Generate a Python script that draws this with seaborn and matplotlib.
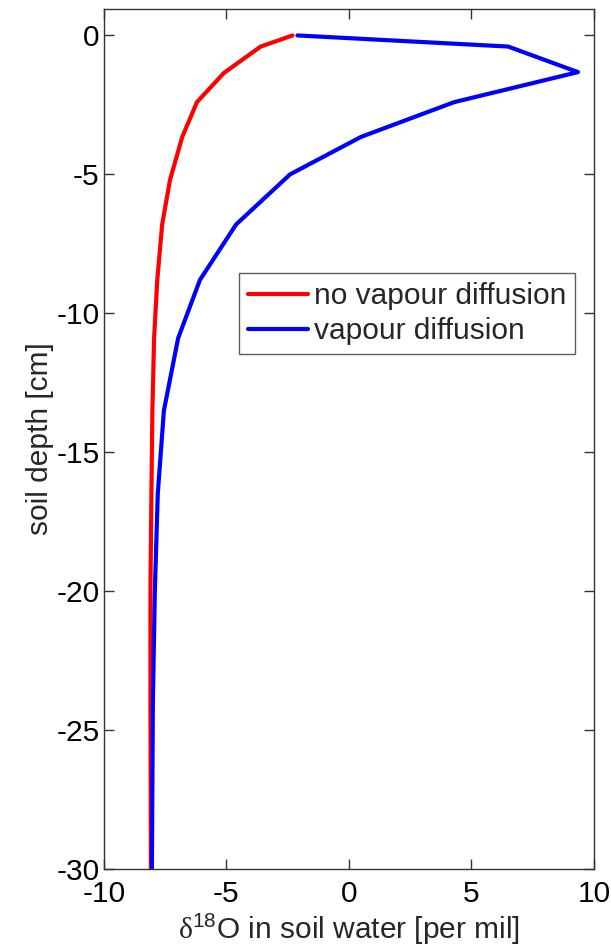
import matplotlib
matplotlib.use("Agg")
import matplotlib.pyplot as plt
import seaborn as sns
import pandas as pd

# data
depth_red = [0, -0.4, -1.35, -2.4, -3.65, -5.2, -6.8, -8.8, -10.9, -13.5, -16.5, -20, -24, -30]
d18o_red = [-2.3, -3.6, -5.1, -6.2, -6.8, -7.3, -7.62, -7.82, -7.95, -8.02, -8.06, -8.1, -8.1, -8.08]
depth_blue = [0, -0.4, -1.32, -2.4, -3.65, -5.0, -6.8, -8.8, -10.9, -13.5, -16.5, -20, -24, -30]
d18o_blue = [-2.1, 6.5, 9.35, 4.3, 0.5, -2.4, -4.6, -6.08, -6.97, -7.55, -7.8, -7.92, -8.0, -8.04]
labels = ["no vapour diffusion", "vapour diffusion"]
xticks = [-10, -5, 0, 5, 10]
yticks = [-30, -25, -20, -15, -10, -5, 0]

df = pd.concat([
    pd.DataFrame({"x": d18o_red, "y": depth_red, "series": labels[0]}),
    pd.DataFrame({"x": d18o_blue, "y": depth_blue, "series": labels[1]}),
], ignore_index=True)

sns.set_style("white")
plt.rcParams["font.family"] = ["Liberation Sans", "DejaVu Sans"]
plt.rcParams["mathtext.fontset"] = "custom"
plt.rcParams["mathtext.rm"] = "Liberation Sans"
plt.rcParams["mathtext.it"] = "Liberation Sans:italic"
plt.rcParams["mathtext.sf"] = "Liberation Serif"

FS = 21.5
fig = plt.figure(figsize=(6.11, 9.52), dpi=100)
ax = fig.add_axes([0.170, 0.0872, 0.972 - 0.170, 0.9905 - 0.0872])

sns.lineplot(data=df, x="x", y="y", hue="series", sort=False, estimator=None,
             palette={labels[0]: "#ff0000", labels[1]: "#0000ff"},
             linewidth=3.0, ax=ax)

ax.set_xlim(-10, 10)
ax.set_ylim(-30, 0.95)
ax.set_xticks(xticks)
ax.set_yticks(yticks)
ax.set_xticklabels([str(t) for t in xticks])
ax.set_yticklabels([str(t) for t in yticks])
ax.tick_params(direction="in", length=7, width=1, colors="#333333",
               labelcolor="black", labelsize=FS, top=True, right=True,
               bottom=True, left=True)
ax.tick_params(axis="x", pad=8)
ax.tick_params(axis="y", pad=3)
for s in ax.spines.values():
    s.set_color("#333333")
    s.set_linewidth(1)

ax.set_xlabel(r"$\mathsf{\delta}^{18}$O in soil water [per mil]", fontsize=FS, labelpad=3)
ax.set_ylabel("soil depth [cm]", fontsize=FS, labelpad=2)

leg = ax.legend(loc="upper left", bbox_to_anchor=(0.276, 0.693), borderaxespad=0,
                fontsize=FS, frameon=True, fancybox=False, edgecolor="#333333",
                handlelength=2.0, handletextpad=0.2, borderpad=0.3, labelspacing=0.25)
leg.get_frame().set_linewidth(1)
for h in leg.get_lines():
    h.set_linewidth(3.0)

fig.savefig("out.png", dpi=100)
